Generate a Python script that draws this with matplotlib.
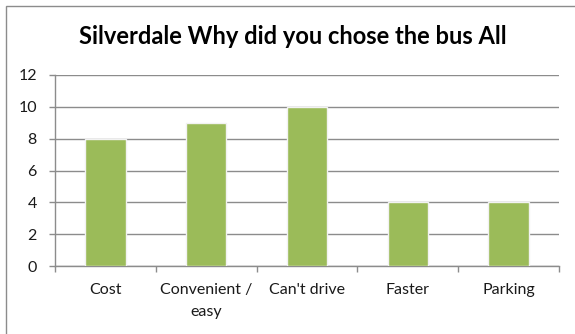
import numpy as np
import matplotlib.pyplot as plt
from matplotlib.patches import Rectangle

categories = ['Cost', 'Convenient /\neasy', "Can't drive", 'Faster', 'Parking']
values = [8, 9, 10, 4, 4]
yticks = [0, 2, 4, 6, 8, 10, 12]

plt.rcParams['font.family'] = ['Lato', 'DejaVu Sans']

fig = plt.figure(figsize=(5.75, 3.34), dpi=100)
ax = fig.add_axes([55 / 575, 1 - 266 / 334, (559 - 55) / 575, (266 - 75) / 334])

# outer chart border
fig.patches.append(Rectangle((6 / 575, -0.1), 1.2, 1 - 6 / 334 + 0.1,
                             transform=fig.transFigure, fill=False,
                             edgecolor='#8c8c8c', linewidth=1.0))

x = np.arange(len(categories))
ax.bar(x, values, width=0.4, color='#9bbb59', edgecolor='#f2f2f2',
       linewidth=1.0, zorder=3)

ax.set_xlim(-0.5, len(categories) - 0.5)
ax.set_ylim(0, 12)
ax.set_yticks(yticks)
ax.set_yticklabels([str(v) for v in yticks], fontsize=11.5, color='#1a1a1a')
ax.yaxis.grid(True, color='#8c8c8c', linewidth=1.0, zorder=0)
ax.set_axisbelow(True)

ax.set_xticks(x)
ax.set_xticklabels(categories, fontsize=11.5, color='#1a1a1a', linespacing=1.75)
ax.tick_params(axis='x', length=0, pad=12)
ax.set_xticks(np.arange(len(categories) + 1) - 0.5, minor=True)
ax.tick_params(axis='x', which='minor', length=4.5, color='#8c8c8c', width=1.0)
ax.tick_params(axis='y', length=4.5, color='#8c8c8c', width=1.0, pad=8.5)

for s in ['top', 'right']:
    ax.spines[s].set_visible(False)
for s in ['left', 'bottom']:
    ax.spines[s].set_color('#8c8c8c')
    ax.spines[s].set_linewidth(1.0)

fig.text(293 / 575, 1 - 37 / 334, 'Silverdale Why did you chose the bus All',
         ha='center', va='center', fontsize=17, fontweight='bold', color='#000000')

fig.savefig('out.png', dpi=100)
